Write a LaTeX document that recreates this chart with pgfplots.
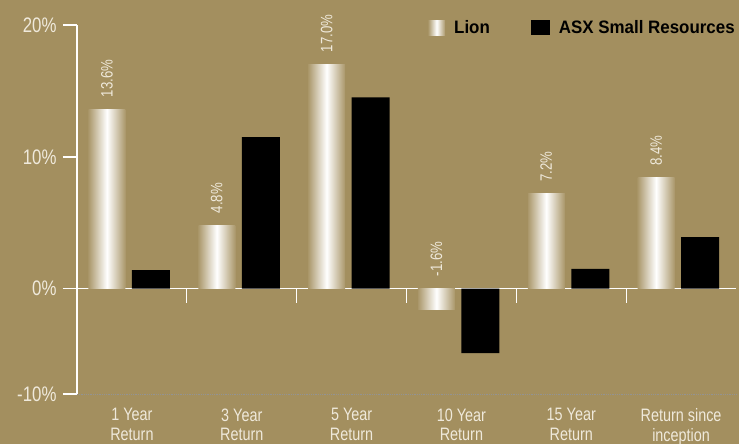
\documentclass[border=0pt]{standalone}
\usepackage{pgfplots}
\pgfplotsset{compat=1.18}
\usepackage{pgfplotstable}
\usepackage{fontspec}
\setmainfont{Liberation Sans}[FakeStretch=0.8]
\newfontfamily\legfont{Liberation Sans}[FakeStretch=0.94]
\definecolor{bg}{HTML}{A38F5F}
\definecolor{cream}{HTML}{EFE9DB}
\definecolor{lionedge}{HTML}{AA976A}
\pagecolor{bg}

\pgfplotstableread{
x lion asx
1 13.6 1.4
2 4.8 11.5
3 17.0 14.5
4 -1.6 -4.9
5 7.2 1.5
6 8.4 3.9
}\data

\begin{document}
\begin{tikzpicture}
\begin{axis}[
  name=ax, at={(0,0)}, anchor=south west,
  width=659pt, height=369pt, scale only axis,
  xmin=0.5, xmax=6.5, ymin=-8, ymax=20,
  clip=false,
  ybar, bar width=37pt,
  axis lines*=left,
  x axis line style={draw=gray!85, densely dotted, line width=0.8pt},
  y axis line style={draw=white, line width=1.5pt},
  xtick={1,...,6},
  xticklabels={{1 Year\\Return},{3 Year\\Return},{5 Year\\Return},{10 Year\\Return},{15 Year\\Return},{Return since\\inception}},
  x tick label style={align=center, text=cream, font=\fontsize{18}{19.5}\selectfont, yshift=3pt},
  major x tick style={draw=none},
  ytick={-8,0,10,20}, yticklabels={-10\%,0\%,10\%,20\%},
  y tick label style={text=cream, font=\fontsize{21}{22}\selectfont, xshift=-3pt},
  tick align=outside,
  major tick length=14pt,
  major y tick style={draw=white, line width=1.5pt},
  extra y ticks={0}, extra y tick labels={},
  extra y tick style={grid=major, major grid style={draw=white, line width=1.5pt}},
  legend cell align=left,
  legend columns=2,
  legend style={at={(0.5326,0.993)}, anchor=west, draw=none, fill=none,
    inner sep=0pt, text=black,
    font=\legfont\bfseries\fontsize{18}{20}\selectfont,
    nodes={inner sep=0pt},
    /tikz/every odd column/.append style={column sep=9pt},
    /tikz/every even column/.append style={column sep=41pt}},
]
% one plot per Lion bar, so that each bar gets its own shading
\pgfplotsinvokeforeach{1,...,6}{
  \addplot[forget plot, bar shift=-25pt, draw=none,
    left color=lionedge, right color=lionedge, middle color=white,
    x filter/.expression={x==#1 ? x : nan}]
    table[x=x, y=lion] {\data};
}
\addplot[forget plot, bar shift=19pt, bar width=38pt, fill=black, draw=none]
  table[x=x, y=asx] {\data};
% value labels above the Lion bars (above zero for negative values)
\addplot[forget plot, bar shift=-25pt, draw=none, fill=none, point meta=explicit,
  nodes near coords={\pgfmathprintnumber[fixed, fixed zerofill, precision=1, assume math mode=true]{\pgfplotspointmeta}\%},
  nodes near coords style={rotate=90, anchor=west, inner xsep=12pt, inner ysep=0pt, text=cream,
    font=\fontsize{16.5}{18}\selectfont}]
  table[x=x, y expr={max(\thisrow{lion},0)}, meta=lion] {\data};
\pgfplotsinvokeforeach{1.5,2.5,3.5,4.5,5.5}{
  \draw[white, line width=1.2pt] (axis cs:#1,0) -- ++(0pt,-14pt);
}
\addlegendimage{draw=none, legend image code/.code={\shade[draw=none, left color=lionedge, right color=lionedge, middle color=white] (0pt,-7.5pt) rectangle (17pt,7.5pt);}}
\addlegendentry{Lion}
\addlegendimage{draw=none, legend image code/.code={\fill[black] (0pt,-7.5pt) rectangle (19pt,7.5pt);}}
\addlegendentry{ASX Small Resources}
\end{axis}
\pgfresetboundingbox
\path[use as bounding box] ([xshift=-77pt,yshift=-50pt]ax.south west) rectangle ([xshift=662pt,yshift=394pt]ax.south west);
\end{tikzpicture}
\end{document}
